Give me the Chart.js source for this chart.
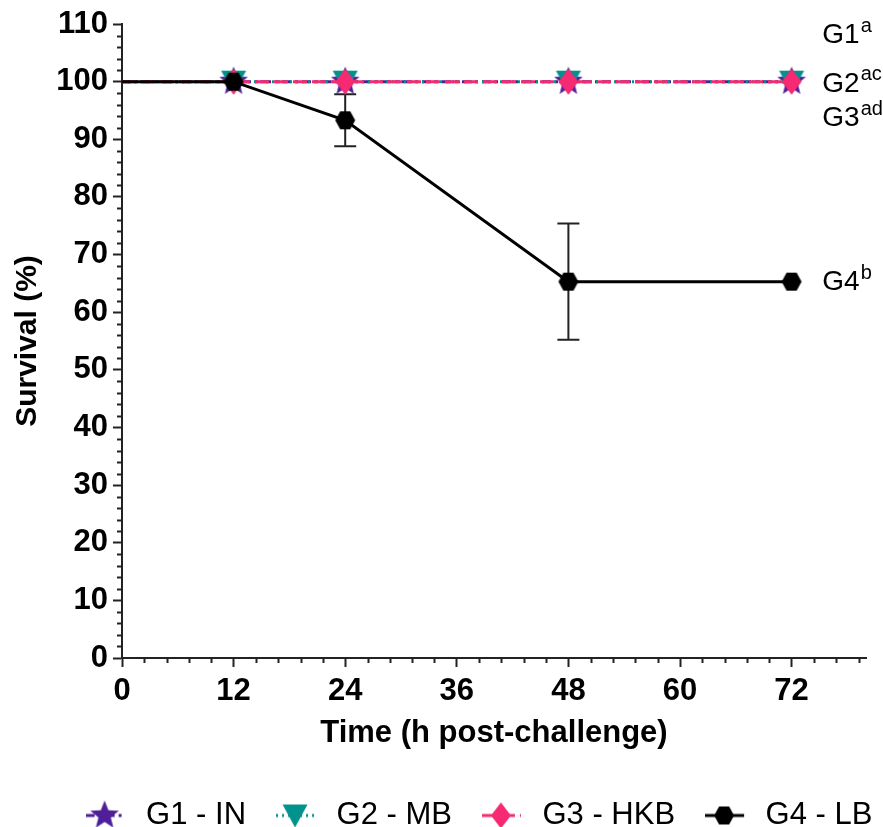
<!DOCTYPE html>
<html>
<head>
<meta charset="utf-8">
<script src="https://cdn.jsdelivr.net/npm/chart.js@4.4.1/dist/chart.umd.min.js"></script>
<style>
  body { margin: 0; background: #fff; }
  #wrap { width: 883px; height: 827px; }
</style>
</head>
<body>
<div id="wrap"><canvas id="survivalChart"></canvas></div>
<script>
// values
const hours = [0, 12, 24, 48, 72];
const g1Survival = [100, 100, 100, 100, 100];
const g2Survival = [100, 100, 100, 100, 100];
const g3Survival = [100, 100, 100, 100, 100];
const g4Survival = [100, 100, 93.3, 65.3, 65.3];
const g4Error = [0, 0, 4.5, 10.1, 0];
const xTicks = [0, 12, 24, 36, 48, 60, 72];
const groupNames = ['G1 - IN', 'G2 - MB', 'G3 - HKB', 'G4 - LB'];
const sideLabels = ['G1', 'G2', 'G3', 'G4'];
const sideSups = ['a', 'ac', 'ad', 'b'];

const PURPLE = '#4f1f99';
const TEAL = '#00928c';
const PINK = '#f52a72';
const BLACK = '#000000';
const FONT = '"Liberation Sans", Arial, sans-serif';

function drawShape(ctx, shape, cx, cy, color) {
  ctx.fillStyle = color;
  ctx.beginPath();
  if (shape === 'star') {
    for (let i = 0; i < 10; i++) {
      const r = i % 2 === 0 ? 15 : 6.5;
      const a = -Math.PI / 2 + i * Math.PI / 5;
      ctx.lineTo(cx + r * Math.cos(a), cy + r * Math.sin(a));
    }
  } else if (shape === 'tri') {
    ctx.moveTo(cx - 12.5, cy - 11);
    ctx.lineTo(cx + 12.5, cy - 11);
    ctx.lineTo(cx, cy + 12);
  } else if (shape === 'diamond') {
    ctx.moveTo(cx, cy - 13);
    ctx.lineTo(cx + 10, cy);
    ctx.lineTo(cx, cy + 13);
    ctx.lineTo(cx - 10, cy);
  } else {
    ctx.moveTo(cx - 10, cy);
    ctx.lineTo(cx - 5, cy - 9);
    ctx.lineTo(cx + 5, cy - 9);
    ctx.lineTo(cx + 10, cy);
    ctx.lineTo(cx + 5, cy + 9);
    ctx.lineTo(cx - 5, cy + 9);
  }
  ctx.closePath();
  ctx.fill();
}

function makeMarker(shape, color) {
  const c = document.createElement('canvas');
  c.width = 32; c.height = 32;
  drawShape(c.getContext('2d'), shape, 16, 16, color);
  return c;
}

// legend icon: short line with the marker on it, 5px of empty space on the right
function makeLegendIcon(shape, color, dash) {
  const c = document.createElement('canvas');
  c.width = 45; c.height = 32;
  const ctx = c.getContext('2d');
  ctx.strokeStyle = color;
  ctx.lineWidth = 3;
  ctx.setLineDash(dash);
  ctx.beginPath();
  ctx.moveTo(0, 16);
  ctx.lineTo(39, 16);
  ctx.stroke();
  drawShape(ctx, shape, 19, 16, color);
  return c;
}

const shapes = ['star', 'tri', 'diamond', 'hex'];
const colors = [PURPLE, TEAL, PINK, BLACK];
const dashes = [[9, 4, 3, 4], [2, 4], [14, 5], []];
const legendIcons = shapes.map((s, i) => makeLegendIcon(s, colors[i], dashes[i]));

function series(values) {
  return hours.map((h, i) => ({ x: h, y: values[i] }));
}

// error bars of G4, drawn under the markers
const errorBars = {
  id: 'errorBars',
  beforeDatasetsDraw(chart) {
    const { ctx, scales: { x, y } } = chart;
    ctx.save();
    ctx.strokeStyle = '#222';
    ctx.lineWidth = 2;
    hours.forEach((h, i) => {
      if (!g4Error[i]) return;
      const px = x.getPixelForValue(h);
      const top = y.getPixelForValue(g4Survival[i] + g4Error[i]);
      const bot = y.getPixelForValue(g4Survival[i] - g4Error[i]);
      ctx.beginPath();
      ctx.moveTo(px, top); ctx.lineTo(px, bot);
      ctx.moveTo(px - 11, top); ctx.lineTo(px + 11, top);
      ctx.moveTo(px - 11, bot); ctx.lineTo(px + 11, bot);
      ctx.stroke();
    });
    ctx.restore();
  }
};

// the legend sits right of centre in the original
const legendShift = {
  id: 'legendShift',
  afterLayout(chart) {
    chart.legend.left += 46;
    chart.legend.right += 46;
  }
};

// minor ticks and the group letters on the right
const extras = {
  id: 'extras',
  afterDraw(chart) {
    const { ctx, scales: { x, y } } = chart;
    ctx.save();
    ctx.strokeStyle = '#222';
    ctx.lineWidth = 2;
    ctx.beginPath();
    for (let v = 0; v <= 110; v += 2) {
      if (v % 10 === 0) continue;
      const py = Math.round(y.getPixelForValue(v)) + 0.5;
      ctx.moveTo(x.left - 5, py); ctx.lineTo(x.left, py);
    }
    for (let v = 2.4; v <= 80; v += 2.4) {
      if (Math.abs(v / 12 - Math.round(v / 12)) < 0.01) continue;
      const px = Math.round(x.getPixelForValue(v)) + 0.5;
      ctx.moveTo(px, y.bottom); ctx.lineTo(px, y.bottom + 5);
    }
    ctx.stroke();

    const anchors = [108.0, 99.6, 93.6, g4Survival[g4Survival.length - 1] - 0.1];
    const lx = x.getPixelForValue(75.3);
    ctx.fillStyle = '#000';
    ctx.textBaseline = 'middle';
    sideLabels.forEach((t, i) => {
      const py = y.getPixelForValue(anchors[i]);
      ctx.font = '28px ' + FONT;
      ctx.fillText(t, lx, py);
      const w = ctx.measureText(t).width;
      ctx.font = '20px ' + FONT;
      ctx.fillText(sideSups[i], lx + w + 1, py - 9);
    });
    ctx.restore();
  }
};

const tickFont = { family: FONT, size: 31, weight: 'bold' };

new Chart(document.getElementById('survivalChart'), {
  type: 'line',
  data: {
    datasets: [
      {
        label: groupNames[0], data: series(g1Survival), borderColor: PURPLE, borderWidth: 3,
        borderDash: dashes[0], pointStyle: makeMarker('star', PURPLE), pointRadius: [0, 12, 12, 12, 12], order: 3
      },
      {
        label: groupNames[1], data: series(g2Survival), borderColor: TEAL, borderWidth: 3,
        borderDash: dashes[1], pointStyle: makeMarker('tri', TEAL), pointRadius: [0, 12, 12, 12, 12], order: 2
      },
      {
        label: groupNames[2], data: series(g3Survival), borderColor: PINK, borderWidth: 3,
        borderDash: dashes[2], pointStyle: makeMarker('diamond', PINK), pointRadius: [0, 12, 12, 12, 12], order: 1
      },
      {
        label: groupNames[3], data: series(g4Survival), borderColor: BLACK, borderWidth: 3,
        pointStyle: makeMarker('hex', BLACK), pointRadius: [0, 10, 10, 10, 10], order: 0
      }
    ]
  },
  options: {
    responsive: true,
    maintainAspectRatio: false,
    animation: false,
    layout: { padding: { left: 0, right: 17, top: 24, bottom: -14 } },
    plugins: {
      tooltip: { enabled: false },
      legend: {
        position: 'bottom',
        labels: {
          usePointStyle: true,
          pointStyleWidth: 45,
          padding: 30,
          color: '#000',
          font: { family: FONT, size: 31 },
          generateLabels(chart) {
            return chart.data.datasets.map((ds, i) => ({
              text: ds.label,
              pointStyle: legendIcons[i],
              fillStyle: colors[i],
              strokeStyle: colors[i],
              lineWidth: 0,
              fontColor: '#000',
              hidden: false,
              datasetIndex: i
            }));
          }
        }
      }
    },
    scales: {
      x: {
        type: 'linear',
        min: 0, max: 80,
        afterBuildTicks(scale) { scale.ticks = xTicks.map(v => ({ value: v })); },
        afterFit(scale) { scale.height = 112; },
        grid: { drawOnChartArea: false, drawTicks: true, tickLength: 9, tickColor: '#222', tickWidth: 2 },
        border: { display: true, color: '#222', width: 2 },
        ticks: { color: '#000', font: tickFont, padding: 6, maxRotation: 0 },
        title: {
          display: true, text: 'Time (h post-challenge)', color: '#000',
          font: { family: FONT, size: 31, weight: 'bold' },
          padding: { top: 0, bottom: 18 }
        }
      },
      y: {
        min: 0, max: 110,
        afterFit(scale) { scale.width = 122; },
        grid: { drawOnChartArea: false, drawTicks: true, tickLength: 9, tickColor: '#222', tickWidth: 2 },
        border: { display: true, color: '#222', width: 2 },
        ticks: { stepSize: 10, color: '#000', font: tickFont, padding: 5 },
        title: {
          display: true, text: 'Survival (%)', color: '#000',
          font: { family: FONT, size: 30, weight: 'bold' },
          padding: { bottom: 0, top: 10 }
        }
      }
    }
  },
  plugins: [errorBars, legendShift, extras]
});
</script>
</body>
</html>
